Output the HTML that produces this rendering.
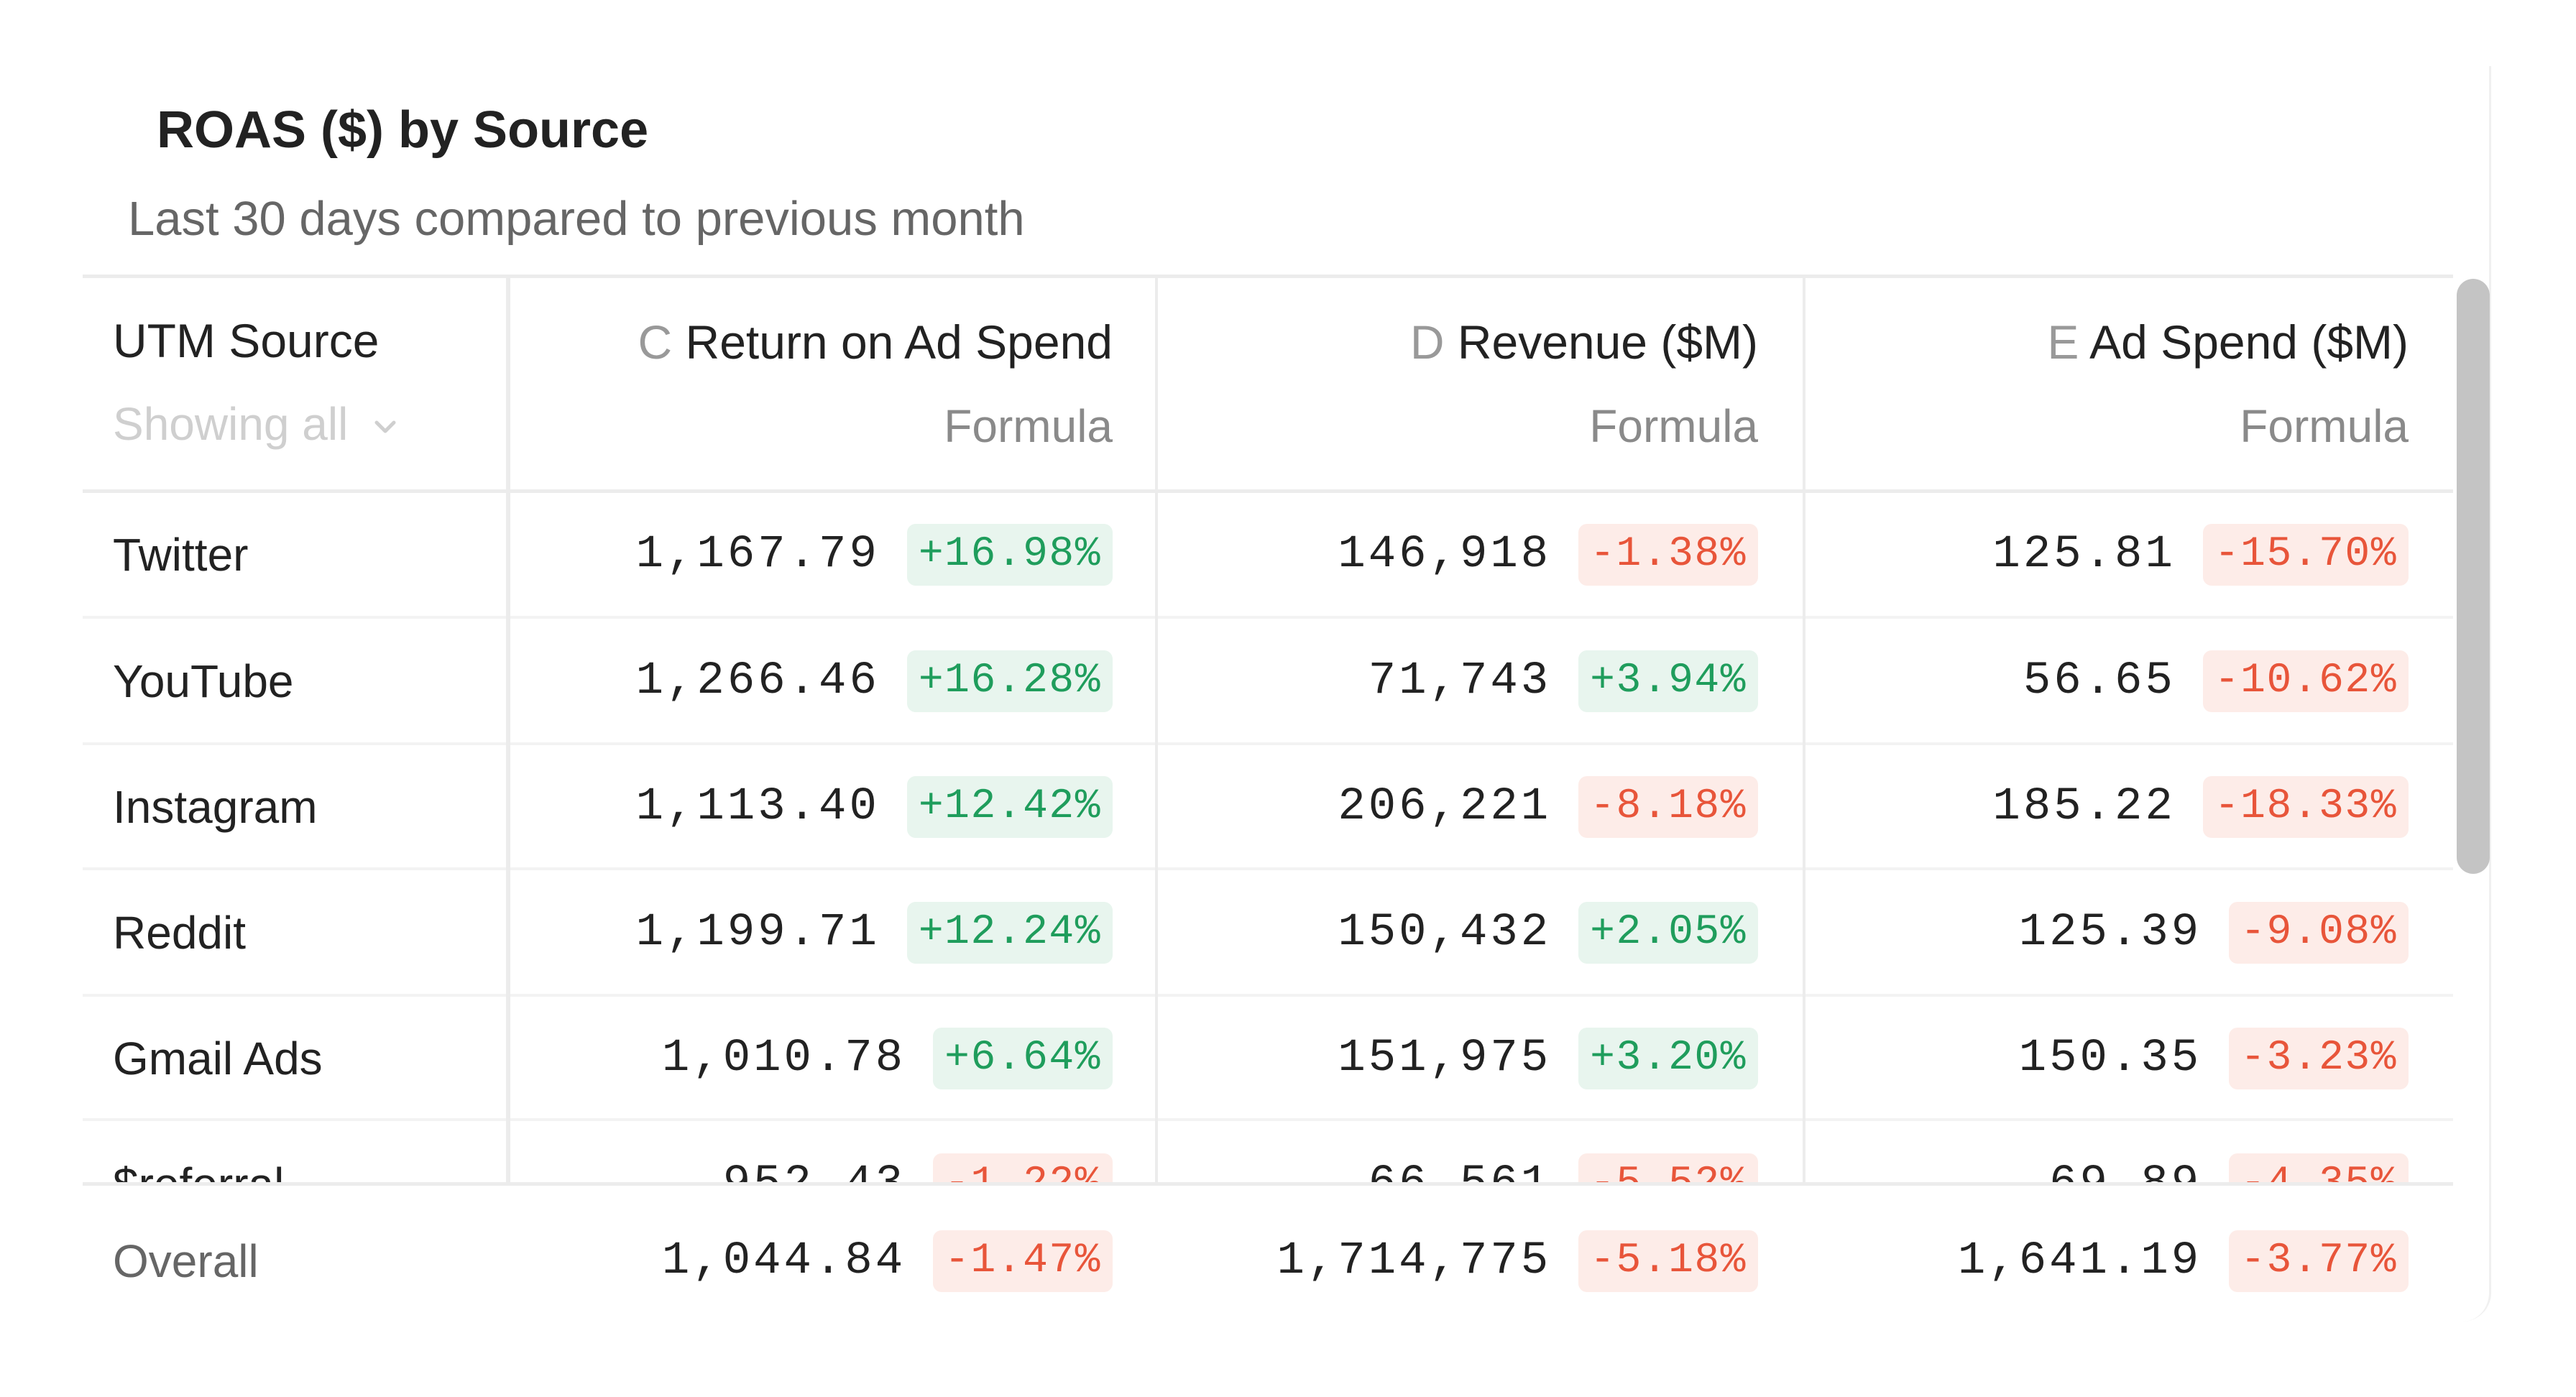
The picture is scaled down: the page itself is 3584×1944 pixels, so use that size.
<!DOCTYPE html>
<html><head><meta charset="utf-8"><style>
html,body{margin:0;padding:0;background:#fff;}
body{width:3584px;height:1944px;position:relative;overflow:hidden;font-family:"Liberation Sans",sans-serif;}
.abs{position:absolute;}
.title{left:218px;top:140px;font-size:72px;font-weight:bold;color:#222;}
.sub{left:178px;top:266px;font-size:67px;color:#666;}
.hl{position:absolute;left:115px;width:3298px;height:5px;background:#ececec;}
.vl{position:absolute;top:386px;height:1261px;width:4px;background:#ececec;}
.row{position:absolute;left:115px;width:3298px;height:175px;display:flex;align-items:center;}
.lab{position:absolute;left:42px;font-size:64px;color:#222;}
.cell{position:absolute;display:flex;align-items:center;justify-content:flex-end;}
.c1{right:1865px}.c2{right:967px}.c3{right:62px}
.num{font-family:"Liberation Mono",monospace;font-size:64px;letter-spacing:4px;color:#222;}
.b{font-family:"Liberation Mono",monospace;font-size:58px;letter-spacing:1.5px;height:86px;line-height:86px;padding:0 16px;border-radius:12px;margin-left:38px;}
.g{color:#1f9d5c;background:#e8f5ee;}
.r{color:#e8553a;background:#fdece8;}
.hd{position:absolute;font-size:66px;color:#222;text-align:right;}
.fm{position:absolute;font-size:64px;color:#8a8a8a;}
</style></head><body>
<div class="abs" style="left:-40px;top:92px;width:3503px;height:1747px;border-right:3px solid #f0f0f0;border-bottom-right-radius:40px;"></div>
<div class="abs title">ROAS ($) by Source</div>
<div class="abs sub">Last 30 days compared to previous month</div>
<div class="hl" style="top:382px"></div>
<div class="hl" style="top:681px"></div>
<div class="hl" style="top:857px;height:4px;background:#f3f3f3"></div>
<div class="hl" style="top:1033px;height:4px;background:#f3f3f3"></div>
<div class="hl" style="top:1207px;height:4px;background:#f3f3f3"></div>
<div class="hl" style="top:1383px;height:4px;background:#f3f3f3"></div>
<div class="hl" style="top:1556px;height:4px;background:#f3f3f3"></div>
<div class="vl" style="left:704px;width:6px;"></div>
<div class="vl" style="left:1607px;"></div>
<div class="vl" style="left:2508px;"></div>
<div class="abs" style="left:3418px;top:388px;width:46px;height:828px;background:#c4c4c4;border-radius:23px;"></div>

<div class="abs" style="left:157px;top:436px;font-size:66px;color:#222;">UTM Source</div>
<div class="abs" style="left:157px;top:553px;font-size:64px;color:#cfcfcf;">Showing all <svg width="40" height="30" viewBox="0 0 40 30" style="margin-left:14px;vertical-align:middle"><polyline points="8,8 20,20 32,8" fill="none" stroke="#cfcfcf" stroke-width="5" stroke-linecap="round" stroke-linejoin="round"/></svg></div>
<div class="hd" style="right:2036px;top:438px"><span style="color:#999">C</span> Return on Ad Spend</div>
<div class="fm" style="right:2036px;top:556px">Formula</div>
<div class="hd" style="right:1138px;top:438px"><span style="color:#999">D</span> Revenue ($M)</div>
<div class="fm" style="right:1138px;top:556px">Formula</div>
<div class="hd" style="right:233px;top:438px"><span style="color:#999">E</span> Ad Spend ($M)</div>
<div class="fm" style="right:233px;top:556px">Formula</div>

<div class="row" style="top:684px"><span class="lab">Twitter</span>
<div class="cell c1"><span class="num">1,167.79</span><span class="b g">+16.98%</span></div>
<div class="cell c2"><span class="num">146,918</span><span class="b r">-1.38%</span></div>
<div class="cell c3"><span class="num">125.81</span><span class="b r">-15.70%</span></div></div>
<div class="row" style="top:860px"><span class="lab">YouTube</span>
<div class="cell c1"><span class="num">1,266.46</span><span class="b g">+16.28%</span></div>
<div class="cell c2"><span class="num">71,743</span><span class="b g">+3.94%</span></div>
<div class="cell c3"><span class="num">56.65</span><span class="b r">-10.62%</span></div></div>
<div class="row" style="top:1035px"><span class="lab">Instagram</span>
<div class="cell c1"><span class="num">1,113.40</span><span class="b g">+12.42%</span></div>
<div class="cell c2"><span class="num">206,221</span><span class="b r">-8.18%</span></div>
<div class="cell c3"><span class="num">185.22</span><span class="b r">-18.33%</span></div></div>
<div class="row" style="top:1210px"><span class="lab">Reddit</span>
<div class="cell c1"><span class="num">1,199.71</span><span class="b g">+12.24%</span></div>
<div class="cell c2"><span class="num">150,432</span><span class="b g">+2.05%</span></div>
<div class="cell c3"><span class="num">125.39</span><span class="b r">-9.08%</span></div></div>
<div class="row" style="top:1385px"><span class="lab">Gmail Ads</span>
<div class="cell c1"><span class="num">1,010.78</span><span class="b g">+6.64%</span></div>
<div class="cell c2"><span class="num">151,975</span><span class="b g">+3.20%</span></div>
<div class="cell c3"><span class="num">150.35</span><span class="b r">-3.23%</span></div></div>
<div class="abs" style="left:0;top:1560px;width:3415px;height:85px;overflow:hidden;">
<div class="row" style="top:0"><span class="lab">$referral</span>
<div class="cell c1"><span class="num">952.43</span><span class="b r">-1.22%</span></div>
<div class="cell c2"><span class="num">66,561</span><span class="b r">-5.52%</span></div>
<div class="cell c3"><span class="num">69.89</span><span class="b r">-4.35%</span></div></div></div>
<div class="hl" style="top:1645px"></div>
<div class="row" style="top:1667px"><span class="lab" style="color:#666">Overall</span>
<div class="cell c1"><span class="num">1,044.84</span><span class="b r">-1.47%</span></div>
<div class="cell c2"><span class="num">1,714,775</span><span class="b r">-5.18%</span></div>
<div class="cell c3"><span class="num">1,641.19</span><span class="b r">-3.77%</span></div></div>
</body></html>
